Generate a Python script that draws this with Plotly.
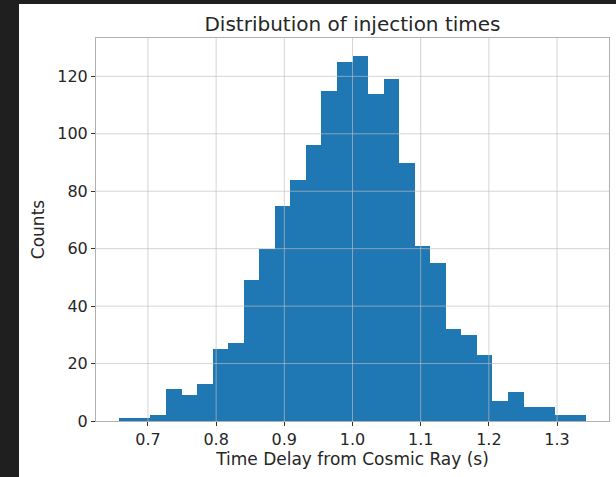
import plotly.graph_objects as go

# Histogram data
bin_start = 0.658
bin_width = 0.0228
counts = [1, 1, 2, 11, 9, 13, 25, 27, 49, 60,
          75, 84, 96, 115, 125, 127, 114, 119, 90, 61,
          55, 32, 30, 23, 7, 10, 5, 5, 2, 2]
centers = [bin_start + bin_width * (i + 0.5) for i in range(len(counts))]
x_ticks = [0.7, 0.8, 0.9, 1.0, 1.1, 1.2, 1.3]
y_ticks = [0, 20, 40, 60, 80, 100, 120]

data_min = bin_start
data_max = bin_start + bin_width * len(counts)
pad = 0.05 * (data_max - data_min)
y_max = max(counts) * 1.05

fig = go.Figure()
fig.add_trace(go.Bar(
    x=centers, y=counts, width=[bin_width] * len(counts),
    marker=dict(color="#1f77b4", line=dict(width=0)),
    hoverinfo="x+y",
))

font = "DejaVu Sans, sans-serif"
grid = "rgba(190,190,190,0.65)"
txt = "#262626"

shapes = [dict(type="rect", xref="paper", yref="paper",
               x0=-0.1501, x1=1.02, y0=-0.16, y1=1.089,
               fillcolor="white", line=dict(width=0), layer="below")]
# grid lines drawn above the bars, as in the original
for v in x_ticks:
    shapes.append(dict(type="line", xref="x", yref="paper", x0=v, x1=v,
                       y0=0, y1=1, line=dict(color=grid, width=1),
                       layer="above"))
for v in y_ticks[1:]:
    shapes.append(dict(type="line", xref="paper", yref="y", x0=0, x1=1,
                       y0=v, y1=v, line=dict(color=grid, width=1),
                       layer="above"))

fig.update_layout(
    width=616, height=477,
    margin=dict(l=96, r=7, t=38, b=56),
    paper_bgcolor="#1f1f1f",
    plot_bgcolor="white",
    showlegend=False,
    bargap=0,
    title=dict(text="Distribution of injection times", x=0.5, xref="paper",
               xanchor="center", y=1, yref="paper", yanchor="bottom",
               pad=dict(b=7),
               font=dict(family=font, size=20, color=txt)),
    font=dict(family=font, color=txt),
    shapes=shapes,
)
fig.update_xaxes(
    range=[data_min - pad, data_max + pad],
    tickvals=x_ticks, ticktext=[f"{v:.1f}" for v in x_ticks],
    showgrid=False,
    showline=True, linecolor="#b0b0b0", linewidth=1, mirror=True,
    ticks="outside", ticklen=4, tickcolor="#333333", tickwidth=1,
    tickfont=dict(size=16, color=txt),
    title=dict(text="Time Delay from Cosmic Ray (s)", standoff=4,
               font=dict(size=17, color=txt)),
    zeroline=False, layer="above traces",
)
fig.update_yaxes(
    range=[0, y_max],
    tickvals=y_ticks,
    showgrid=False,
    showline=True, linecolor="#b0b0b0", linewidth=1, mirror=True,
    ticks="outside", ticklen=4, tickcolor="#333333", tickwidth=1,
    tickfont=dict(size=16, color=txt),
    title=dict(text="Counts", standoff=8,
               font=dict(size=17, color=txt)),
    zeroline=False, layer="above traces",
)

fig.write_html(
    "out.html",
    config={"displayModeBar": False},
    post_script="document.body.style.margin='0';"
                "document.body.style.background='#1f1f1f';",
)
